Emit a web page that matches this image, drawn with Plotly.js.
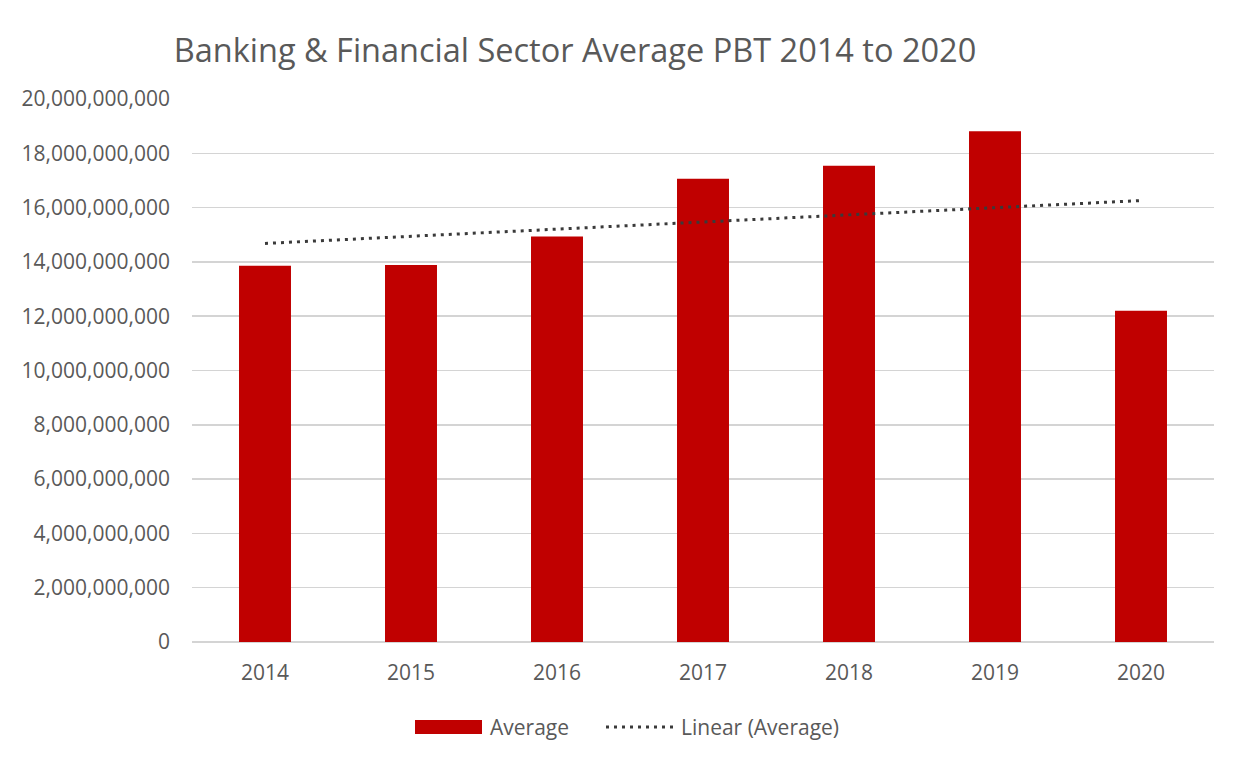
<!DOCTYPE html>
<html>
<head>
<meta charset="utf-8">
<script src="https://cdn.plot.ly/plotly-3.0.1.min.js"></script>
<style>
  html, body { margin: 0; padding: 0; background: #fff; }
  #chart { width: 1244px; height: 765px; outline: 1px solid #d9d9d9; outline-offset: -1px; }
</style>
</head>
<body>
<div id="chart"></div>
<script>
// Banking & Financial sector average PBT
const years = ['2014', '2015', '2016', '2017', '2018', '2019', '2020'];
const averagePBT = [13.86e9, 13.89e9, 14.94e9, 17.06e9, 17.54e9, 18.81e9, 12.20e9];

// Excel "Linear (Average)" trendline end points
const trendYears = ['2014', '2020'];
const trendValues = [14.68e9, 16.26e9];

const yTicks = [0, 2e9, 4e9, 6e9, 8e9, 10e9, 12e9, 14e9, 16e9, 18e9, 20e9];

const FONT = 'Open Sans, sans-serif';
const GREY = '#595959';

const barTrace = {
    type: 'bar',
    x: years,
    y: averagePBT,
    name: 'Average',
    marker: { color: '#c00000', line: { width: 0 } },
    hoverinfo: 'x+y'
};

const trendTrace = {
    type: 'scatter',
    mode: 'lines',
    x: trendYears,
    y: trendValues,
    name: 'Linear (Average)',
    line: { color: '#3a3a3a', width: 3, dash: '3px,5px' },
    hoverinfo: 'skip'
};

// hand-drawn legend, Excel style (wide swatch + dotted sample)
const legendShapes = [
    { type: 'rect', xref: 'paper', yref: 'paper', x0: (415 - 192) / 1022, x1: (482 - 192) / 1022,
      y0: (765 - 123 - 734) / 543, y1: (765 - 123 - 720) / 543,
      fillcolor: '#c00000', line: { width: 0 } },
    { type: 'line', xref: 'paper', yref: 'paper', x0: (606 - 192) / 1022, x1: (674 - 192) / 1022,
      y0: (765 - 123 - 727) / 543, y1: (765 - 123 - 727) / 543,
      line: { color: '#3a3a3a', width: 3, dash: '3px,5px' } }
];

const legendText = [
    { text: 'Average', xref: 'paper', yref: 'paper', x: (488 - 192) / 1022, y: (765 - 123 - 727) / 543,
      xanchor: 'left', yanchor: 'middle', showarrow: false, font: { family: FONT, size: 21, color: GREY } },
    { text: 'Linear (Average)', xref: 'paper', yref: 'paper', x: (679 - 192) / 1022, y: (765 - 123 - 727) / 543,
      xanchor: 'left', yanchor: 'middle', showarrow: false, font: { family: FONT, size: 21, color: GREY } }
];

const layout = {
    width: 1244,
    height: 765,
    paper_bgcolor: '#ffffff',
    plot_bgcolor: '#ffffff',
    font: { family: FONT, color: GREY },
    title: {
        text: 'Banking &amp; Financial Sector Average PBT 2014 to 2020',
        font: { family: FONT, size: 32.5, color: GREY },
        xref: 'container', x: 575 / 1244, xanchor: 'center',
        yref: 'container', y: 1 - 51 / 765, yanchor: 'middle'
    },
    margin: { l: 192, r: 30, t: 99, b: 123 },
    bargap: 0.644,
    showlegend: false,
    xaxis: {
        type: 'category',
        showline: false,
        showgrid: false,
        ticks: '',
        ticklabelstandoff: 16,
        tickfont: { family: FONT, size: 21, color: GREY }
    },
    yaxis: {
        range: [0, 20e9],
        tickvals: yTicks,
        tickformat: ',d',
        showgrid: true,
        gridcolor: '#d4d4d4',
        gridwidth: 1.5,
        zeroline: true,
        zerolinecolor: '#d4d4d4',
        zerolinewidth: 1.5,
        showline: false,
        ticks: '',
        ticklabelstandoff: 21,
        tickfont: { family: FONT, size: 21, color: GREY }
    },
    shapes: legendShapes,
    annotations: legendText
};

Plotly.newPlot('chart', [barTrace, trendTrace], layout, { displayModeBar: false, staticPlot: true });
</script>
</body>
</html>
